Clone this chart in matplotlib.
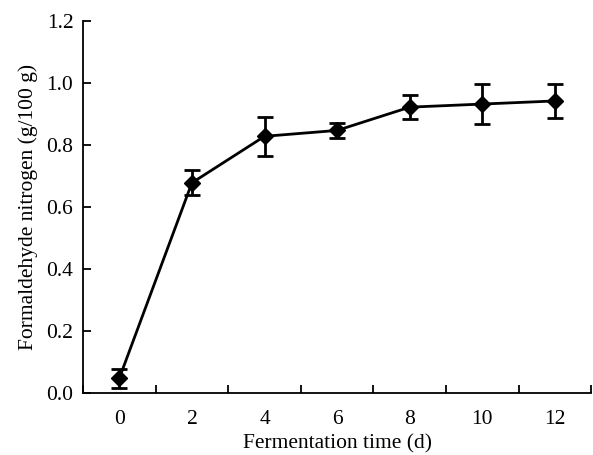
import matplotlib
matplotlib.use("Agg")
import matplotlib.pyplot as plt
from matplotlib.ticker import MultipleLocator

# fermentation time (d) and formaldehyde nitrogen (g/100 g)
days = [0, 2, 4, 6, 8, 10, 12]
nitrogen = [0.048, 0.678, 0.828, 0.847, 0.922, 0.932, 0.942]
err = [0.030, 0.040, 0.063, 0.025, 0.038, 0.064, 0.054]

plt.rcParams["font.family"] = ["Liberation Serif", "DejaVu Serif"]
plt.rcParams["font.size"] = 15.5

fig = plt.figure(figsize=(5.93, 4.55), dpi=100)
ax = fig.add_axes([0.14, 0.136, 0.857, 0.818])

ax.errorbar(days, nitrogen, yerr=err, color="black", lw=2.0,
            marker="D", ms=8, mfc="black", mec="black",
            elinewidth=2.0, capsize=6, capthick=2.0)

ax.set_xlim(-1, 13)
ax.set_ylim(0, 1.2)
ax.xaxis.set_major_locator(MultipleLocator(2))
ax.xaxis.set_minor_locator(MultipleLocator(2, offset=1))
ax.yaxis.set_major_locator(MultipleLocator(0.2))
ax.yaxis.set_major_formatter(plt.FuncFormatter(lambda v, p: f"{v:.1f}"))

ax.tick_params(axis="x", which="major", length=0, pad=12)
ax.tick_params(axis="x", which="minor", direction="in", length=6, width=1.3)
ax.tick_params(axis="y", direction="in", length=6, width=1.3, pad=7)

for s in ("top", "right"):
    ax.spines[s].set_visible(False)
for s in ("left", "bottom"):
    ax.spines[s].set_linewidth(1.3)

ax.set_xlabel("Fermentation time (d)", labelpad=4)
ax.set_ylabel("Formaldehyde nitrogen (g/100 g)", labelpad=6)

fig.savefig("out.png", dpi=100)
